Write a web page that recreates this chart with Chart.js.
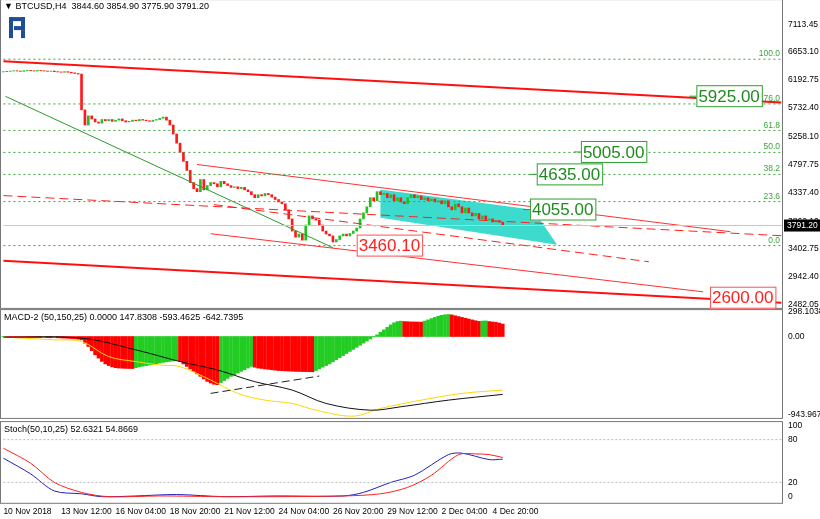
<!DOCTYPE html>
<html><head><meta charset="utf-8">
<script src="https://cdn.jsdelivr.net/npm/chart.js@4.4.1/dist/chart.umd.min.js"></script>
<style>
body{margin:0;background:#fff;width:820px;height:519px;overflow:hidden;font-family:"Liberation Sans",sans-serif}
.p{position:absolute;left:0;width:820px}
</style></head><body>
<div class="p" style="top:-8px;height:323px"><canvas id="c1"></canvas></div>
<div class="p" style="top:302px;height:123px"><canvas id="c2"></canvas></div>
<div class="p" style="top:414px;height:104px"><canvas id="c3"></canvas></div>
<script>
// ---- data ----
const closes=[6330,6335,6340,6345,6340,6335,6345,6350,6345,6340,
6350,6345,6340,6335,6340,6330,6325,6320,6330,6320,
6310,6300,6290,5700,5450,5600,5550,5500,5480,5540,
5520,5540,5510,5530,5550,5520,5500,5510,5530,5520,
5540,5530,5520,5510,5530,5540,5560,5580,5530,5450,
5300,5150,5000,4850,4700,4500,4400,4350,4550,4380,
4450,4500,4480,4430,4520,4480,4450,4420,4430,4400,
4420,4380,4350,4300,4250,4300,4280,4320,4300,4260,
4220,4180,4150,4050,3900,3700,3600,3650,3550,3800,
3950,3900,3880,3800,3700,3650,3620,3520,3560,3620,
3650,3620,3660,3700,3750,3900,4000,4100,4250,4200,
4350,4300,4320,4250,4300,4200,4250,4180,4150,4250,
4300,4250,4280,4220,4250,4200,4230,4180,4200,4150,
4200,4100,4050,4150,4100,4000,4080,4000,3950,3990,
3900,3950,3880,3900,3850,3870,3845,3791.2];
const firstOpen=6325;
const priceTicks=[7113.45,6653.10,6192.75,5732.40,5258.10,4797.75,4337.40,3862.10,3402.75,2942.40,2482.05];
const fibLow=3460.1, fibHigh=6535;
const fibLevels=[0,23.6,38.2,50.0,61.8,76.0,100.0];
const lastPrice=3791.20;
// trend lines: [i1,p1,i2,p2]
const thickRed=[[0,6501,229,5823],[0,3210,229,2515]];
const thinRed=[[57,4798,214,3689],[61,3656,206,2697]];
const dashedRed=[[0,4285,229,3623],[62,4136,190,3193]];
const greenLine=[[0.6,5923,97,3425]];
const channel=[[111,4384],[156,4053],[163,3475],[111,3921]];
const boxes=[[204,5925,'5925.00','g'],[170,5005,'5005.00','g'],[157,4635,'4635.00','g'],[155,4055,'4055.00','g'],[104,3460.1,'3460.10','r'],[208,2600,'2600.00','r']];
const hist=[-2,-3,-4,-5,-6,-7,-8,-9,-10,-11,
-12,-13,-12,-14,-15,-14,-16,-18,-20,-22,
-25,-28,-32,-40,-80,-120,-170,-220,-260,-300,
-330,-350,-365,-375,-380,-382,-384,-385,-386,-375,
-365,-358,-350,-342,-335,-328,-320,-312,-305,-300,
-295,-290,-300,-330,-360,-390,-420,-450,-480,-510,
-540,-560,-575,-580,-555,-530,-505,-480,-460,-440,
-420,-400,-380,-360,-370,-380,-385,-390,-395,-400,
-405,-410,-412,-414,-416,-418,-420,-421,-422,-423,
-424,-425,-410,-390,-370,-350,-330,-305,-280,-255,
-230,-205,-180,-155,-130,-105,-80,-55,-30,-5,
20,50,80,110,140,165,180,185,180,178,
176,175,174,173,185,200,215,230,245,255,
262,265,260,250,240,230,220,210,200,190,
182,186,188,180,175,170,162,150];
const macdX=[0,23,39,52,63,74,85,95,108,117,131,147];
const macdY=[-8,-20,-161,-302,-403,-544,-645,-806,-887,-846,-766,-697];
const sigX=[0,15,23,31,39,46,52,61,69,77,85,92,103,111,123,135,147];
const sigY=[-8,-40,-60,-242,-302,-343,-363,-524,-685,-766,-806,-887,-959,-866,-766,-685,-645];
const macdDash=[61,-685,93,-476];
const macdTicks=[298.1038,0,-943.9676];
const stK_X=[0,8,15,23,29,39,51,65,80,100,106,114,121,131,135,143,147];
const stK_Y=[54,32,8,4,0,1,3,0,1,1,6,20,30,59,61,52,52.6];
const stD_X=[0,8,15,23,31,46,65,80,100,111,119,126,134,139,143,147];
const stD_Y=[68,47,20,6,0,1,0,0,1,4,13,30,59,60,59,54.9];
const stochTicks=[100,80,20,0];
const timeIdx=[0,17,33,49,65,81,97,113,129,144];
const timeLabels=['10 Nov 2018','13 Nov 12:00','16 Nov 04:00','18 Nov 20:00','21 Nov 12:00','24 Nov 04:00','26 Nov 20:00','29 Nov 12:00','2 Dec 04:00','4 Dec 20:00'];

// ---- helpers ----
const FONT='"Liberation Sans", sans-serif';
const XMAX=229.5;
const GREEN='#22c022', RED='#ff1a1a';
function pts(xs,ys){return xs.map((x,i)=>({x,y:ys[i]}));}
function seg(s,color,width,dash){return {type:'line',data:[{x:s[0],y:s[1]},{x:s[2],y:s[3]}],borderColor:color,borderWidth:width,borderDash:dash||[],pointRadius:0,fill:false,order:0};}
const frame={id:'frame',afterDraw(ch){const a=ch.chartArea,c=ch.ctx;c.save();c.strokeStyle='#777';c.lineWidth=1;c.strokeRect(a.left+0.5,a.top+0.5,a.right-a.left-1,a.bottom-a.top);c.restore();}};
function yAxis(min,max,ticks,fmt){return {position:'right',min,max,afterFit(s){s.width=37;},
 afterBuildTicks(s){s.ticks=ticks.map(v=>({value:v}));},
 grid:{display:false,drawTicks:true,tickLength:3,color:'#444'},border:{display:false},
 ticks:{font:{family:FONT,size:8.5},color:'#000',padding:2,callback:fmt}};}
const xHidden={type:'linear',min:-1,max:XMAX,display:false,offset:false,grid:{offset:false}};
const base={responsive:true,maintainAspectRatio:false,animation:false,events:[],
 plugins:{legend:{display:false},tooltip:{enabled:false}}};

// ---- main chart ----
const candles=closes.map((c,i)=>{const o=i?closes[i-1]:firstOpen;return {x:i,y:[o,c],up:c>=o};});
const ds1=[{type:'bar',data:candles.map(d=>({x:d.x,y:d.y})),backgroundColor:candles.map(d=>d.up?GREEN:RED),barThickness:2,order:1}];
fibLevels.forEach(l=>{const p=fibLow+(fibHigh-fibLow)*l/100;ds1.push(seg([0,p,XMAX,p],'#3aa53a',1,[2,3]));});
ds1.push(seg([0,lastPrice,XMAX,lastPrice],'#c8c8c8',1));
thickRed.forEach(s=>ds1.push(seg(s,'#ff1010',2)));
thinRed.forEach(s=>ds1.push(seg(s,'#ff3030',1)));
dashedRed.forEach(s=>ds1.push(seg(s,'#ff2020',1,[9,5])));
greenLine.forEach(s=>ds1.push(seg(s,'#2c9a2c',1)));
const overlay1={id:'ov1',beforeDatasetsDraw(ch){const x=ch.scales.x,y=ch.scales.y,c=ch.ctx;c.save();c.fillStyle='rgba(40,215,200,0.9)';c.beginPath();channel.forEach((p,i)=>{const px=x.getPixelForValue(p[0]),py=y.getPixelForValue(p[1]);i?c.lineTo(px,py):c.moveTo(px,py);});c.closePath();c.fill();c.restore();},
 afterDraw(ch){const x=ch.scales.x,y=ch.scales.y,c=ch.ctx,a=ch.chartArea;c.save();
  c.font='8.5px '+FONT;c.fillStyle='#3aa53a';c.textAlign='right';c.textBaseline='bottom';
  fibLevels.forEach(l=>{const p=fibLow+(fibHigh-fibLow)*l/100;c.fillText(l.toFixed(1),a.right-3,y.getPixelForValue(p)-1);});
  c.font='17px '+FONT;c.textBaseline='middle';c.textAlign='left';
  boxes.forEach(b=>{const px=x.getPixelForValue(b[0]),py=y.getPixelForValue(b[1]);const w=c.measureText(b[2]).width+4;
   const col=b[3]=='g'?'#1e8c1e':'#ff2020';c.fillStyle='#fff';c.fillRect(px,py-11,w,22);c.strokeStyle=b[3]=='g'?'#2ea02e':'#ff5050';c.lineWidth=1;c.strokeRect(px+0.5,py-10.5,w,21);
   c.fillStyle=col;c.fillText(b[2],px+2,py+1);
   if(b[3]=='g'){c.strokeStyle='#2ea02e';c.beginPath();c.moveTo(px-7,py);c.lineTo(px,py);c.stroke();}});
  const ly=y.getPixelForValue(lastPrice);c.fillStyle='#000';c.fillRect(a.right+1,ly-6,37,12);c.fillStyle='#fff';c.font='8.5px '+FONT;c.fillText(lastPrice.toFixed(2),a.right+4,ly);
  c.fillStyle='#000';c.font='9px '+FONT;c.textBaseline='top';c.fillText('▼ BTCUSD,H4  3844.60 3854.90 3775.90 3791.20',a.left+4,a.top+3);
  const lx=a.left+9,ly2=a.top+18;
  c.fillStyle='#1f4e96';c.fillRect(lx,ly2,4,21);c.fillRect(lx,ly2,16,4);c.fillRect(lx+12,ly2,4,13);c.fillRect(lx+5,ly2+9,11,4);c.fillRect(lx+12,ly2+13,4,8);
  c.restore();}};
new Chart(document.getElementById('c1'),{data:{datasets:ds1},plugins:[frame,overlay1],options:{...base,
 scales:{x:xHidden,y:yAxis(2432,7527,priceTicks,v=>v.toFixed(2))}}});

// ---- MACD ----
const histColors=hist.map((v,i)=>i&&v<hist[i-1]?'#ff0000':'#22cc22');
const ds2=[{type:'bar',data:hist.map((v,i)=>({x:i,y:v})),backgroundColor:histColors,barThickness:3,order:3},
 {type:'line',data:pts(sigX,sigY),borderColor:'#ffd700',borderWidth:1,pointRadius:0,tension:0.35,order:1},
 {type:'line',data:pts(macdX,macdY),borderColor:'#111',borderWidth:1,pointRadius:0,tension:0.35,order:0},
 seg(macdDash,'#222',1,[8,4])];
const txt2={id:'t2',afterDraw(ch){const c=ch.ctx,a=ch.chartArea;c.save();c.font='9px '+FONT;c.fillStyle='#000';c.textBaseline='top';c.fillText('MACD-2 (50,150,25) 0.0000 147.8308 -593.4625 -642.7395',a.left+4,a.top+4);c.restore();}};
new Chart(document.getElementById('c2'),{data:{datasets:ds2},plugins:[frame,txt2],options:{...base,
 scales:{x:xHidden,y:yAxis(-980,330,macdTicks,v=>v===0?'0.00':v.toFixed(4))}}});

// ---- Stoch ----
const ds3=[seg([0,80,XMAX,80],'#bbb',1,[2,2]),seg([0,20,XMAX,20],'#bbb',1,[2,2]),
 {type:'line',data:pts(stD_X,stD_Y),borderColor:'#ff2020',borderWidth:1,pointRadius:0,tension:0.3},
 {type:'line',data:pts(stK_X,stK_Y),borderColor:'#2020c0',borderWidth:1,pointRadius:0,tension:0.3}];
const txt3={id:'t3',afterDraw(ch){const c=ch.ctx,a=ch.chartArea;c.save();c.font='9px '+FONT;c.fillStyle='#000';c.textBaseline='top';c.fillText('Stoch(50,10,25) 52.6321 54.8669',a.left+4,a.top+4);c.restore();}};
new Chart(document.getElementById('c3'),{data:{datasets:ds3},plugins:[frame,txt3],options:{...base,
 scales:{x:{type:'linear',min:-1,max:XMAX,offset:false,afterBuildTicks(s){s.ticks=timeIdx.map(v=>({value:v}));},
   grid:{display:false,tickLength:3,color:'#444'},border:{display:false},
   ticks:{font:{family:FONT,size:8.5},color:'#000',align:'start',maxRotation:0,padding:1,autoSkip:false,callback:(v)=>timeLabels[timeIdx.indexOf(v)]}},
  y:yAxis(-8.6,106,stochTicks,v=>String(v))}}});
</script></body></html>
